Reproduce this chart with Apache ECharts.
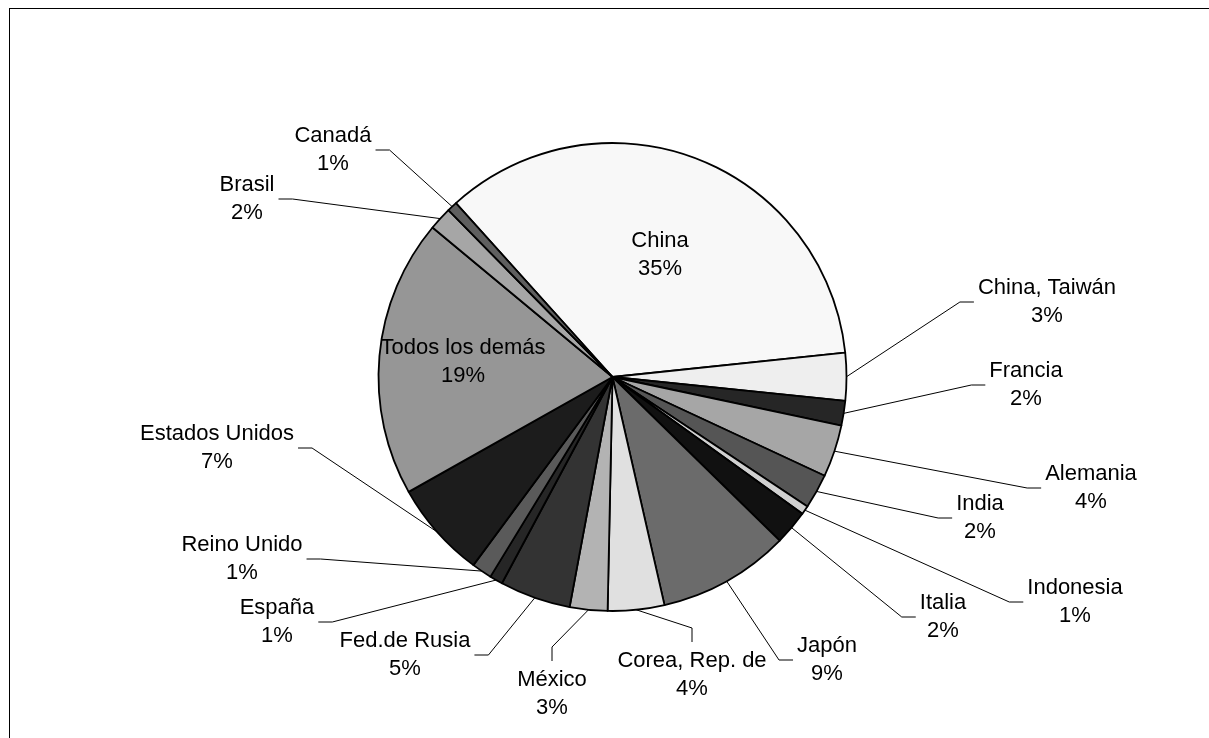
<!DOCTYPE html>
<html>
<head>
<meta charset="utf-8">
<script src="https://cdn.jsdelivr.net/npm/echarts@6/dist/echarts.min.js"></script>
<style>
  html, body { margin: 0; padding: 0; background: #fff; overflow: hidden; }
  #frame { position: absolute; left: 9px; top: 8px; width: 1400px; height: 900px;
           border-top: 1px solid #000; border-left: 1px solid #000; box-sizing: border-box; }
  #chart { position: absolute; left: 0; top: 0; width: 1209px; height: 738px; }
</style>
</head>
<body>
<div id="frame"></div>
<div id="chart"></div>
<script>
// Share of the total by origin, in percent (clockwise from China)
const countries = [
  'China', 'China, Taiwán', 'Francia', 'Alemania', 'India', 'Indonesia', 'Italia',
  'Japón', 'Corea, Rep. de', 'México', 'Fed.de Rusia', 'España', 'Reino Unido',
  'Estados Unidos', 'Todos los demás', 'Brasil', 'Canadá'
];
const shares = [
  35.0, 3.3, 1.7, 3.6, 2.4, 0.6, 2.4,
  9.1, 3.9, 2.6, 4.9, 0.9, 1.4,
  6.7, 19.2, 1.6, 0.7
];

// Grey fill for each slice, same order as countries
const sliceColors = [
  '#f8f8f8', '#eeeeee', '#262626', '#a6a6a6', '#555555', '#d0d0d0', '#111111',
  '#6b6b6b', '#e0e0e0', '#b3b3b3', '#333333', '#262626', '#5a5a5a',
  '#1c1c1c', '#969696', '#a6a6a6', '#5f5f5f'
];

// Where each label block sits: [centre x, middle y, side the leader line joins]
const labelSpots = {
  'China':           [660, 255, 'in'],
  'China, Taiwán':   [1047, 302, 'left'],
  'Francia':         [1026, 385, 'left'],
  'Alemania':        [1091, 488, 'left'],
  'India':           [980, 518, 'left'],
  'Indonesia':       [1075, 602, 'left'],
  'Italia':          [943, 617, 'left'],
  'Japón':           [827, 660, 'left'],
  'Corea, Rep. de':  [692, 675, 'top'],
  'México':          [552, 694, 'top'],
  'Fed.de Rusia':    [405, 655, 'right'],
  'España':          [277, 622, 'right'],
  'Reino Unido':     [242, 559, 'right'],
  'Estados Unidos':  [217, 448, 'right'],
  'Todos los demás': [463, 362, 'in'],
  'Brasil':          [247, 199, 'right'],
  'Canadá':          [333, 150, 'right']
};

const PIE_CENTER = [612.5, 377];
const PIE_RADIUS = 234;
const START_ANGLE = 132;
const FONT = '"Liberation Sans", Arial, Helvetica, sans-serif';

const total = shares.reduce((a, b) => a + b, 0);

// Fallback point on the rim at a slice's mid angle
function rimPoint(idx) {
  let before = 0;
  for (let i = 0; i < idx; i++) before += shares[i];
  const mid = (before + shares[idx] / 2) / total * 360;
  const a = (START_ANGLE - mid) * Math.PI / 180;
  return [PIE_CENTER[0] + PIE_RADIUS * Math.cos(a), PIE_CENTER[1] - PIE_RADIUS * Math.sin(a)];
}

const chart = echarts.init(document.getElementById('chart'), null, { renderer: 'canvas' });

const lineStyle = { align: 'center', color: '#000', fontFamily: FONT, fontSize: 22, lineHeight: 28 };

chart.setOption({
  backgroundColor: 'transparent',
  animation: false,
  series: [{
    type: 'pie',
    center: PIE_CENTER,
    radius: PIE_RADIUS,
    startAngle: START_ANGLE,
    clockwise: true,
    avoidLabelOverlap: false,
    silent: true,
    itemStyle: { borderColor: '#000', borderWidth: 1.8, borderJoin: 'round' },
    label: {
      show: true,
      position: 'outside',
      color: '#000',
      fontFamily: FONT,
      fontSize: 22,
      lineHeight: 28,
      // each line centred within the label block
      formatter: p => '{c|' + p.name + '}\n{c|' + Math.round(p.percent) + '%}',
      rich: { c: lineStyle }
    },
    labelLine: { show: true, lineStyle: { color: '#000', width: 1 } },
    labelLayout: function (p) {
      const spot = labelSpots[countries[p.dataIndex]];
      const w = p.labelRect.width, h = p.labelRect.height;
      const cx = spot[0], cy = spot[1];
      let x = cx;
      if (p.align === 'left') x = cx - w / 2;
      else if (p.align === 'right') x = cx + w / 2;
      let y = cy;
      if (p.verticalAlign === 'top') y = cy - h / 2;
      else if (p.verticalAlign === 'bottom') y = cy + h / 2;
      const out = { x: x, y: y };
      if (spot[2] !== 'in') {
        const rim = (p.labelLinePoints && p.labelLinePoints[0]) || rimPoint(p.dataIndex);
        let end, knee;
        if (spot[2] === 'left') { end = [cx - w / 2 - 4, cy]; knee = [end[0] - 14, cy]; }
        else if (spot[2] === 'right') { end = [cx + w / 2 + 4, cy]; knee = [end[0] + 14, cy]; }
        else { end = [cx, cy - h / 2 - 5]; knee = [cx, end[1] - 14]; }
        out.labelLinePoints = [rim, knee, end];
      }
      return out;
    },
    data: countries.map((name, i) => {
      const item = { name: name, value: shares[i], itemStyle: { color: sliceColors[i] } };
      if (labelSpots[name][2] === 'in') {
        item.label = { position: 'inside' };
        item.labelLine = { show: false };
      }
      return item;
    })
  }]
});
</script>
</body>
</html>
